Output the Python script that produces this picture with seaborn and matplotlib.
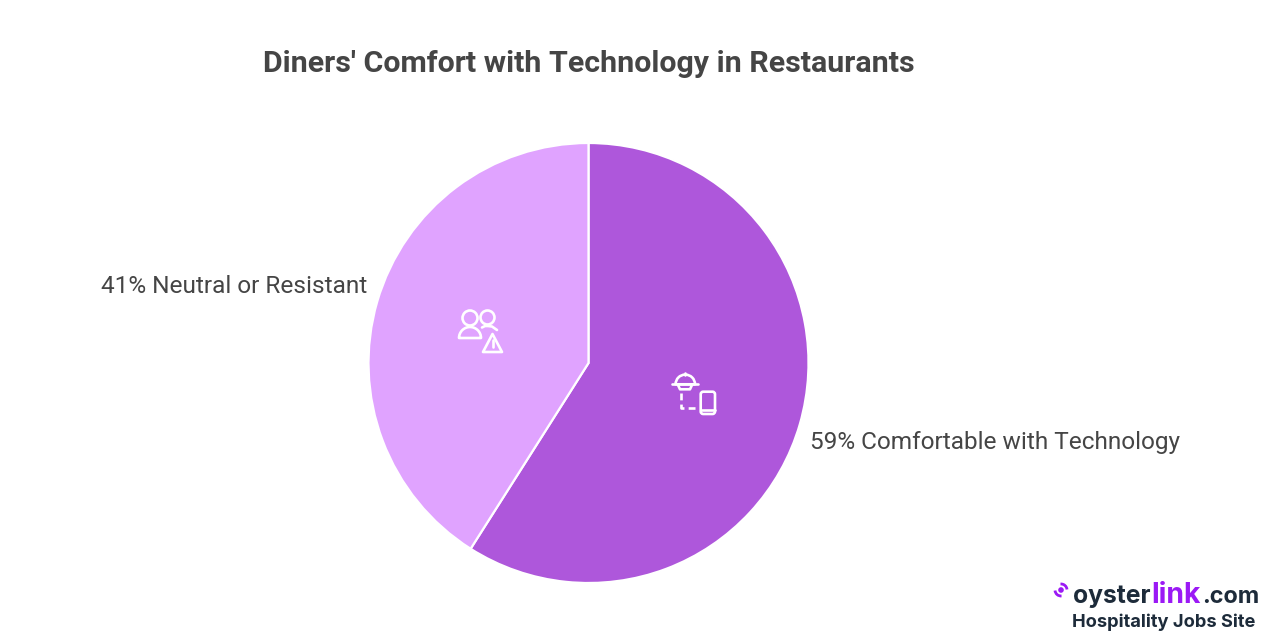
import matplotlib
matplotlib.use('Agg')
import matplotlib.pyplot as plt
import seaborn as sns
from matplotlib.patches import Arc, Circle, FancyBboxPatch, Polygon, Wedge

categories = ['Comfortable with Technology', 'Neutral or Resistant']
shares = [59, 41]
colors = ['#AE57DB', '#E0A3FF']
title = "Diners' Comfort with Technology in Restaurants"

sns.set_theme(style='white')
plt.rcParams['font.family'] = ['Roboto', 'DejaVu Sans']

fig = plt.figure(figsize=(12.8, 6.4), dpi=100, facecolor='white')

# pie axes sized so that radius 1 is 220 px around (588.5, 363)
ax = fig.add_axes([(588.5 - 220) / 1280, (640 - 363 - 220) / 640, 440 / 1280, 440 / 640])
ax.pie(shares, colors=colors, startangle=90, counterclock=False,
       wedgeprops={'edgecolor': 'white', 'linewidth': 1.6})
ax.set_xlim(-1, 1)
ax.set_ylim(-1, 1)

# overlay in pixel coords for text, icons and logo
ov = fig.add_axes([0, 0, 1, 1], facecolor='none')
ov.set_xlim(0, 1280)
ov.set_ylim(640, 0)
ov.axis('off')

text_col = '#454545'
ov.text(588.8, 64, title, ha='center', va='center', fontsize=21.9, fontweight='bold', color=text_col)
ov.text(367.5, 286.5, f'{shares[1]}% {categories[1]}', ha='right', va='center', fontsize=17.6, color=text_col)
ov.text(809.5, 443, f'{shares[0]}% {categories[0]}', ha='left', va='center', fontsize=17.6, color=text_col)

lw = 1.9
kw = dict(fill=False, edgecolor='white', linewidth=lw, capstyle='round', joinstyle='round')


def line(xs, ys):
    ov.plot(xs, ys, color='white', linewidth=lw, solid_capstyle='round')


# people + warning icon
ov.add_patch(Circle((470, 318), 7.5, **kw))
ov.add_patch(Circle((487.5, 317.5), 7, **kw))
ov.add_patch(Wedge((470, 338), 11, 180, 360, **kw))
line([482, 485, 488, 492, 497], [327.5, 326, 326, 326.5, 330])
ov.add_patch(Polygon([(492.5, 334), (483, 352), (502, 352)], closed=True, **kw))
line([492.5, 492.5], [340, 346.5])
line([492.5, 492.5], [349.8, 350])

# cloche + phone icon
ov.add_patch(Wedge((685.3, 384.3), 9.7, 180, 360, **kw))
line([672.3, 697.7], [384.3, 384.3])
line([685.3, 685.3], [373.3, 374.5])
line([678, 680, 690, 692], [385, 389.3, 389.3, 385])
ov.plot([681.3, 681.3, 698.3], [393.3, 408, 408], color='white', linewidth=lw, linestyle=(0, (2.6, 1.6)))
ov.add_patch(FancyBboxPatch((700.7, 391.7), 14.3, 22.3, boxstyle='round,pad=0,rounding_size=2.5', **kw))
line([701, 714.7], [410, 410])

# logo
dark = '#1D2B3A'
purple = '#9B19F5'
logo_font = ['Inter', 'DejaVu Sans']
for part, col, px, size in [('oyster', dark, 1073, 17.8), ('link', purple, 1151, 20.4), ('.com', dark, 1202.5, 16.9)]:
    ov.text(px, 603, part, ha='left', va='baseline', fontsize=size, fontweight='bold', family=logo_font, color=col)
ov.text(1072, 622, 'Hospitality Jobs Site', ha='left', va='center', fontsize=13.15, fontweight='bold',
        family=logo_font, color=dark)
ov.add_patch(Circle((1061, 590), 2.8, color=purple, linewidth=0))
ov.add_patch(Arc((1061, 590), 12, 12, angle=0, theta1=-95, theta2=-5, color=purple, linewidth=2))
ov.add_patch(Arc((1061, 590), 12, 12, angle=0, theta1=85, theta2=175, color=purple, linewidth=2))

fig.savefig('out.png', dpi=100)
